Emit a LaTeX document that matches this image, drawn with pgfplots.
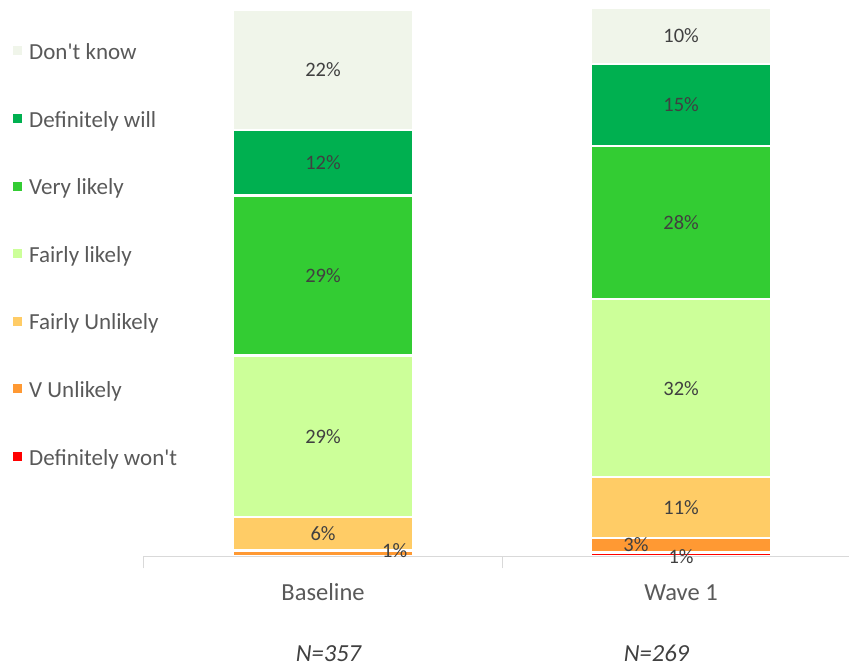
\documentclass[border=0pt]{standalone}
\usepackage{pgfplots}
\pgfplotsset{compat=1.18}
\usepackage{fontspec}
\setmainfont{Carlito}
\definecolor{cDK}{HTML}{F0F5EA}
\definecolor{cDW}{HTML}{00B050}
\definecolor{cVL}{HTML}{33CC33}
\definecolor{cFL}{HTML}{CCFF99}
\definecolor{cFU}{HTML}{FFCC66}
\definecolor{cVU}{HTML}{FF9933}
\definecolor{cDN}{HTML}{FF0000}
\definecolor{lblc}{HTML}{404040}
\definecolor{legc}{HTML}{595959}
\definecolor{axc}{HTML}{D9D9D9}
\begin{document}
\begin{tikzpicture}[x=1pt,y=1pt]
\path[use as bounding box] (0pt,0pt) rectangle (849pt,668pt);
\begin{axis}[
  at={(144pt,111.5pt)}, anchor=south west,
  scale only axis, width=705pt, height=548.5pt,
  xmin=-0.5, xmax=1.469, ymin=0, ymax=100,
  ybar stacked, bar width=180pt,
  axis y line=none, axis x line*=bottom,
  x axis line style={axc, line width=1pt, -},
  xtick={0,1}, xticklabels={Baseline, Wave 1},
  major tick length=0pt,
  extra x ticks={-0.5,0.5,1.5}, extra x tick labels={},
  extra x tick style={major tick length=12pt, tick align=outside, tick style={axc, line width=1pt}},
  xticklabel style={font=\fontsize{24.5}{29}\selectfont, text=legc, anchor=base, yshift=-44.5pt},
  axis on top,
  clip=false,
  legend image code/.code={\fill[#1, draw=none] (0pt,-1.5pt) rectangle (9pt,7.5pt);},
  reverse legend,
  legend cell align=left,
  legend style={at={(axis description cs:-0.1862,0.9353)}, anchor=north west,
    draw=none, fill=none, inner sep=0pt, outer sep=0pt,
    row sep=46.6pt, column sep=7.5pt,
    font=\fontsize{23}{27}\selectfont, text=legc,
    nodes={inner sep=0pt, text height=16pt, text depth=5pt}},
]
\addplot[fill=cDN, draw=white, line width=2.5pt] coordinates {(0,0) (1,0.7)};
\addplot[fill=cVU, draw=white, line width=2.5pt] coordinates {(0,1.1) (1,2.7)};
\addplot[fill=cFU, draw=white, line width=2.5pt] coordinates {(0,6.1) (1,11.1)};
\addplot[fill=cFL, draw=white, line width=2.5pt] coordinates {(0,29.4) (1,32.4)};
\addplot[fill=cVL, draw=white, line width=2.5pt] coordinates {(0,29.2) (1,27.9)};
\addplot[fill=cDW, draw=white, line width=2.5pt] coordinates {(0,12.0) (1,15.0)};
\addplot[fill=cDK, draw=white, line width=2.5pt] coordinates {(0,21.9) (1,10.2)};
\legend{Definitely won\textquotesingle t, V Unlikely, Fairly Unlikely, Fairly likely, Very likely, Definitely will, Don\textquotesingle t know}
\end{axis}
\begin{axis}[
  at={(144pt,111.5pt)}, anchor=south west,
  scale only axis, width=705pt, height=548.5pt,
  xmin=-0.5, xmax=1.469, ymin=0, ymax=100,
  hide axis, clip=false]
\addplot[draw=none, mark=none, nodes near coords={\pgfplotspointmeta\%},
  point meta=explicit symbolic,
  nodes near coords style={anchor=center, inner sep=0pt, font=\fontsize{20.5}{24}\selectfont, text=lblc}]
  table[meta=lbl] {
x y lbl
0.20 1.0 1
0 4.15 6
0 21.9 29
0 51.2 29
0 71.8 12
0 88.75 22
1.0 0.0 1
0.874 2.1 3
1 8.95 11
1 30.7 32
1 60.85 28
1 82.3 15
1 94.9 10
};
\end{axis}
\node[anchor=base, inner sep=0pt, text=lblc, font=\fontsize{24.5}{29}\selectfont\itshape] at (328.5pt,6pt) {N=357};
\node[anchor=base, inner sep=0pt, text=lblc, font=\fontsize{24.5}{29}\selectfont\itshape] at (656.5pt,6pt) {N=269};
\end{tikzpicture}
\end{document}
